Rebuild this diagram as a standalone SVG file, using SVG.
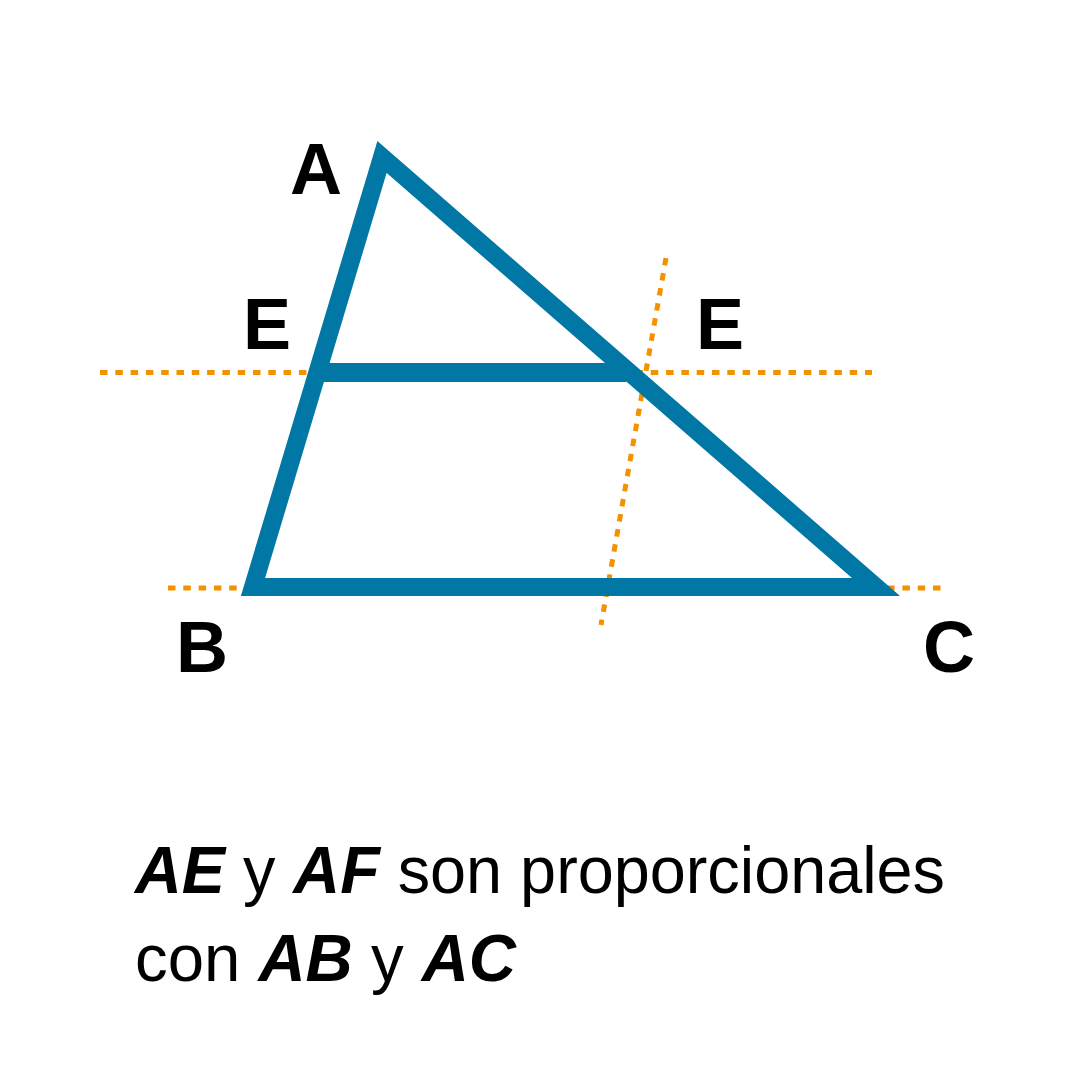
<svg xmlns="http://www.w3.org/2000/svg" width="1080" height="1091" viewBox="0 0 1080 1091">
<style>
.dot{fill:none;stroke:#F39200;stroke-width:5;stroke-dasharray:7.5 7.8}
.tri{fill:none;stroke:#0077A4;stroke-width:18;stroke-linejoin:miter;stroke-miterlimit:10}
.lbl{font-family:"Liberation Sans",Arial,sans-serif;font-weight:bold;font-size:72px;fill:#000}
.cap{font-family:"Liberation Sans",Arial,sans-serif;font-size:67px;fill:#000}
.bi{font-weight:bold;font-style:italic}
</style>
<rect width="1080" height="1091" fill="#fff"/>
<g id="connectors">
<line class="dot" x1="100" y1="372.5" x2="872" y2="372.5"/>
<line class="dot" x1="168" y1="588" x2="942" y2="588"/>
<line class="dot" x1="666" y1="258" x2="601" y2="625"/>
</g>
<g id="triangle">
<polygon class="tri" points="382,157 253,587 876,587"/>
<line x1="316" y1="372.5" x2="626" y2="372.5" stroke="#0077A4" stroke-width="19"/>
</g>
<g id="label-A"><text class="lbl" x="290" y="194">A</text></g>
<g id="label-E1"><text class="lbl" x="243" y="349">E</text></g>
<g id="label-E2"><text class="lbl" x="696" y="349">E</text></g>
<g id="label-B"><text class="lbl" x="176" y="672">B</text></g>
<g id="label-C"><text class="lbl" x="923" y="672">C</text></g>
<g id="caption">
<text class="cap" x="135" y="893" textLength="810" lengthAdjust="spacingAndGlyphs"><tspan class="bi">AE</tspan> y <tspan class="bi">AF</tspan> son proporcionales</text>
<text class="cap" x="135" y="981" textLength="381" lengthAdjust="spacingAndGlyphs">con <tspan class="bi">AB</tspan> y <tspan class="bi">AC</tspan></text>
</g>
</svg>
